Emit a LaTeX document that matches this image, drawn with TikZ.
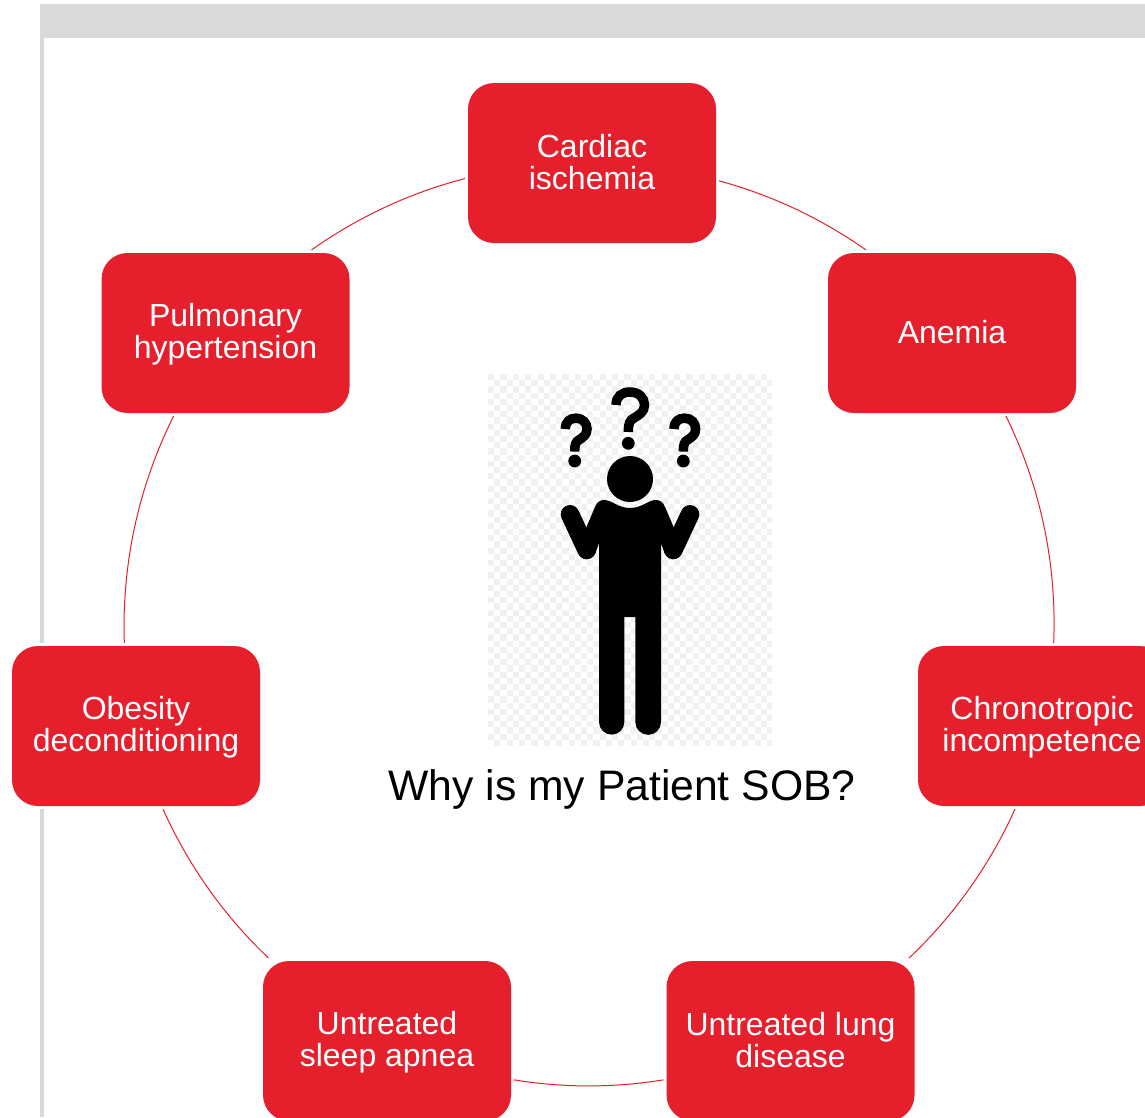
\documentclass[tikz,border=0pt]{standalone}
\usepackage{fontspec}
\setmainfont{Liberation Sans}
\definecolor{boxred}{HTML}{E61F2D}
\definecolor{bandgray}{HTML}{D9D9D9}
\definecolor{checker}{HTML}{F1F1F1}
\newcommand{\twolines}[2]{\rule{0pt}{26pt}#1\\#2\rule[-6pt]{0pt}{6pt}}
\tikzset{
  x=1pt,y=-1pt,
  causebox/.style={rectangle,rounded corners=26pt,fill=boxred,text=white,
    minimum width=248pt,minimum height=160pt,outer sep=3pt,align=center,
    font=\fontsize{32}{32}\selectfont,
    preaction={draw=white,line width=6pt}},
  ringline/.style={draw=boxred,line width=1pt},
  qmark/.pic={
    \draw[black,line cap=butt] (-12.3,-38.3) .. controls (-12.3,-47) and (-6.3,-51.3) .. (1.7,-51.3)
       .. controls (10.7,-51.3) and (16.2,-45.3) .. (16.2,-38.3)
       .. controls (16.2,-31.3) and (10.7,-28.3) .. (5.7,-25.3)
       .. controls (1.7,-23.3) and (0,-20.3) .. (0,-11.3);
  }
}
\begin{document}
\begin{tikzpicture}
\useasboundingbox (0,0) rectangle (1145,1117);
\fill[white] (0,0) rectangle (1145,1117);
% frame
\fill[bandgray] (40,4) rectangle (1145,38);
\fill[bandgray] (40,38) rectangle (44,1117);
% icon background
\foreach \i in {0,...,45}{\foreach \j in {0,...,59}{
  \pgfmathparse{int(mod(\i+\j,2))}
  \ifnum\pgfmathresult=0
    \fill[checker] ({488+\i*6.2},{374+\j*6.2}) rectangle ({488+min(\i*6.2+6.2,284)},{374+min(\j*6.2+6.2,373)});
  \fi
}}
% person
\fill[black] (630,479) circle[radius=23];
\fill[black] (586,528) -- (595,507) .. controls (597,502) and (600,500) .. (604,500)
  .. controls (612,500) and (618,508) .. (630,508)
  .. controls (642,508) and (648,500) .. (656,500)
  .. controls (660,500) and (663,502) .. (665,507)
  -- (674,528) -- (673.3,550) -- (664.7,553.5) -- (661,543)
  -- (661,722) arc[start angle=0,end angle=180,radius=12.85] -- (635.3,617) -- (624.3,617)
  -- (624.3,722) arc[start angle=0,end angle=180,radius=12.65] -- (599,543) -- (595.3,553.5) -- (586.7,550) -- cycle;
\draw[black,line width=18.6pt,line cap=round] (570,514.3) -- (586.7,550);
\draw[black,line width=18.6pt,line cap=round] (690,514.3) -- (673.3,550);
\pic[line width=9.5pt] at (628.3,443.3) {qmark};
\pic[xscale=.76,yscale=.835,line width=9.5pt] at (574.7,461) {qmark};
\pic[xscale=.76,yscale=.835,line width=9.5pt] at (683.3,461) {qmark};
\fill[black] (628.3,443.3) circle[radius=6.4];
\fill[black] (574.7,461) circle[radius=6.4];
\fill[black] (683.3,461) circle[radius=6.4];
% boxes
\node[causebox] (card) at (592,163) {\twolines{Cardiac}{ischemia}};
\node[causebox] (anem) at (952,333) {Anemia\rule[-2pt]{0pt}{2pt}};
\node[causebox] (chro) at (1042,726) {\twolines{Chronotropic}{incompetence}};
\node[causebox] (lung) at (790.5,1041) {\twolines{Untreated lung}{disease}};
\node[causebox] (slee) at (387,1041) {\twolines{Untreated}{sleep apnea}};
\node[causebox] (obes) at (136,726) {\twolines{Obesity}{deconditioning}};
\node[causebox] (pulm) at (225.5,333) {\twolines{Pulmonary}{hypertension}};
\node[font=\fontsize{42.67}{44}\selectfont,text=black,inner sep=0pt] (title) at (622,789.5) {Why is my Patient SOB?};
% ring
\draw[ringline] (card.-8.5) to[bend left=10,looseness=.86] (anem.136);
\draw[ringline] (anem.-57.3) to[bend left=14.25,looseness=.87] (chro.82.6);
\draw[ringline] (chro.-108.6) to[bend left=11.2,looseness=.86] (lung.35.3);
\draw[ringline] (lung.197.5) to[bend left=9.3,looseness=.86] (slee.-17.5);
\draw[ringline] (slee.145.1) to[bend left=11.2,looseness=.86] (obes.-72);
\draw[ringline] (obes.98) to[bend left=14.25,looseness=.87] (pulm.-122.5);
\draw[ringline] (pulm.44.1) to[bend left=10.5,looseness=.86] (card.187.7);
\end{tikzpicture}
\end{document}
